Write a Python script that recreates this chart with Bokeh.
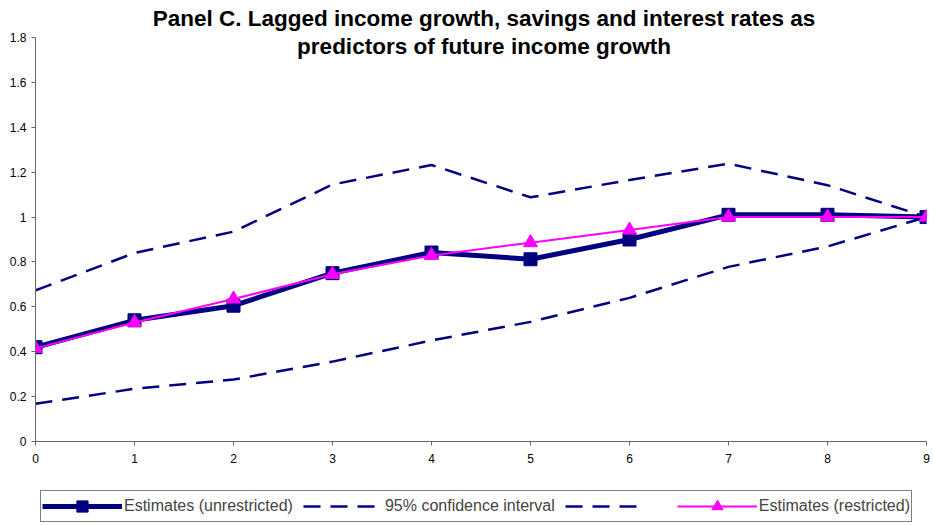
from bokeh.plotting import figure
from bokeh.models import Range1d, Legend, LegendItem, FixedTicker, Label
from bokeh.layouts import column
from bokeh.embed import file_html
from bokeh.resources import INLINE

lags = [0, 1, 2, 3, 4, 5, 6, 7, 8, 9]
unrestricted = [0.42, 0.54, 0.605, 0.75, 0.842, 0.812, 0.90, 1.01, 1.01, 1.00]
restricted = [0.415, 0.53, 0.635, 0.745, 0.829, 0.886, 0.942, 1.00, 1.00, 1.00]
ci_upper = [0.673, 0.84, 0.935, 1.145, 1.232, 1.088, 1.165, 1.238, 1.142, 1.00]
ci_lower = [0.168, 0.235, 0.276, 0.356, 0.45, 0.533, 0.64, 0.778, 0.869, 1.00]
y_ticks = [0, 0.2, 0.4, 0.6, 0.8, 1, 1.2, 1.4, 1.6, 1.8]
title_lines = ["Panel C. Lagged income growth, savings and interest rates as",
               "predictors of future income growth"]
legend_labels = ["Estimates (unrestricted)", "95% confidence interval", " ",
                 "Estimates (restricted)"]

NAVY = "#000080"
MAGENTA = "#FF00FF"
FONT = "Liberation Sans"
DASH = "17 10"

# frame spans canvas top to y=441; axis 0..1.8 occupies 37..441
FRAME_H = 441
Y_TOP = 1.8 * FRAME_H / (FRAME_H - 37)

p = figure(width=934, height=475, output_backend="svg", toolbar_location=None,
           x_range=Range1d(0, 9), y_range=Range1d(0, Y_TOP),
           min_border_left=35, min_border_right=8, min_border_top=0,
           min_border_bottom=34, title=None)
p.outline_line_color = None
p.grid.visible = False
p.background_fill_color = "white"

frame_w = 934 - 35 - 8
for txt, cy in zip(title_lines, [18, 46]):
    p.add_layout(Label(x=frame_w / 2 + 3, y=FRAME_H - cy, x_units="screen", y_units="screen",
                       text=txt, text_align="center", text_baseline="middle",
                       text_font=FONT, text_font_size="22.5px", text_font_style="bold",
                       text_color="#000000"))

for ax in (p.xaxis[0], p.yaxis[0]):
    ax.axis_line_color = "#666666"
    ax.major_tick_line_color = "#666666"
    ax.minor_tick_line_color = None
    ax.major_tick_in = 0
    ax.major_tick_out = 4
    ax.major_label_text_font = FONT
    ax.major_label_text_font_size = "12px"
    ax.major_label_text_color = "#000000"

p.xaxis[0].ticker = FixedTicker(ticks=lags)
p.xaxis[0].major_label_standoff = 8
p.yaxis[0].ticker = FixedTicker(ticks=y_ticks)
p.yaxis[0].bounds = (0, 1.8)
p.yaxis[0].major_label_overrides = {0: "0", 1: "1"}

p.line(lags, ci_upper, line_color=NAVY, line_width=2.5, line_dash=DASH)
p.line(lags, ci_lower, line_color=NAVY, line_width=2.5, line_dash=DASH)
p.line(lags, unrestricted, line_color=NAVY, line_width=5)
p.scatter(lags, unrestricted, marker="square", size=13, fill_color=NAVY, line_color=NAVY)
p.line(lags, restricted, line_color=MAGENTA, line_width=2)
p.scatter(lags, restricted, marker="triangle", size=14, fill_color=MAGENTA, line_color=MAGENTA)

# legend in a separate strip figure below (proxy glyphs kept off-range)
q = figure(width=934, height=50, output_backend="svg", toolbar_location=None,
           min_border=0, min_border_left=0, min_border_right=0, min_border_top=0,
           min_border_bottom=0, title=None, x_range=Range1d(0, 1), y_range=Range1d(0, 1))
q.axis.visible = False
q.grid.visible = False
q.outline_line_color = None
off = [-10]
l1 = q.line(off, off, line_color=NAVY, line_width=5)
s1 = q.scatter(off, off, marker="square", size=12, fill_color=NAVY, line_color=NAVY)
l2 = q.line(off, off, line_color=NAVY, line_width=2.5, line_dash=DASH)
l3 = q.line(off, off, line_color=NAVY, line_width=2.5, line_dash=DASH)
l4 = q.line(off, off, line_color=MAGENTA, line_width=2)
s4 = q.scatter(off, off, marker="triangle", size=12, fill_color=MAGENTA, line_color=MAGENTA)

legend = Legend(items=[
    LegendItem(label=legend_labels[0], renderers=[l1, s1]),
    LegendItem(label=legend_labels[1], renderers=[l2]),
    LegendItem(label=legend_labels[2], renderers=[l3]),
    LegendItem(label=legend_labels[3], renderers=[l4, s4]),
], orientation="horizontal", location=(5, 3))
legend.label_text_font = FONT
legend.label_text_font_size = "16px"
legend.glyph_width = 80
legend.glyph_height = 28
legend.label_height = 20
legend.label_standoff = 2
legend.spacing = 10
legend.padding = 1
legend.margin = 0
legend.border_line_color = "#000000"
legend.border_line_width = 1
legend.background_fill_alpha = 1
q.add_layout(legend)

open("out.html", "w").write(file_html(column(p, q, spacing=0), INLINE))
